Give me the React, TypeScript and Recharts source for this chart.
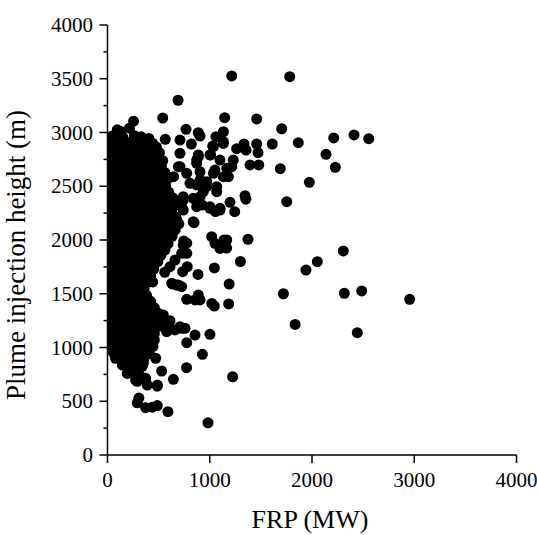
import React from 'react';
import { ScatterChart, Scatter, XAxis, YAxis } from 'recharts';

const xTicks = [0, 1000, 2000, 3000, 4000];
const yTicks = [0, 250, 500, 750, 1000, 1250, 1500, 1750, 2000, 2250, 2500, 2750, 3000, 3250, 3500, 3750, 4000];

// [FRP (MW), plume injection height (m)]
const blobTop: [number, number][] = [
  [255, 3105], [95, 3025], [130, 3010], [215, 3040],
  [40, 2965], [150, 2955], [262, 2970], [330, 2960], [405, 2945],
  [20, 2915], [92, 2925], [178, 2910], [248, 2920], [302, 2905], [378, 2920], [440, 2900],
  [10, 2868], [62, 2872], [128, 2860], [203, 2875], [268, 2862], [348, 2870], [418, 2858], [478, 2866],
  [28, 2808], [102, 2815], [168, 2800], [240, 2812], [312, 2805], [382, 2818], [452, 2800], [508, 2812],
  [12, 2752], [72, 2748], [138, 2760], [212, 2745], [282, 2755], [348, 2742], [422, 2758], [488, 2750], [540, 2738],
];

const blobMid: [number, number][] = [
  [38, 2692], [112, 2688], [182, 2695], [248, 2684], [322, 2690], [392, 2698], [458, 2686], [528, 2690],
  [10, 2632], [82, 2625], [148, 2636], [222, 2628], [288, 2634], [362, 2622], [428, 2630], [502, 2638], [562, 2626],
  [42, 2572], [108, 2566], [182, 2575], [252, 2568], [318, 2578], [392, 2565], [462, 2572], [528, 2580], [588, 2568],
  [12, 2512], [78, 2505], [152, 2514], [218, 2508], [292, 2516], [358, 2502], [432, 2510], [498, 2518], [568, 2506],
  [38, 2452], [112, 2446], [178, 2455], [252, 2448], [322, 2456], [388, 2444], [462, 2450], [532, 2458], [598, 2446],
  [10, 2392], [82, 2386], [148, 2395], [222, 2388], [288, 2396], [362, 2384], [428, 2390], [502, 2398], [572, 2386], [638, 2394],
  [42, 2332], [108, 2326], [182, 2335], [248, 2328], [322, 2336], [392, 2324], [458, 2330], [532, 2338], [598, 2326], [662, 2334],
  [12, 2272], [78, 2266], [152, 2275], [222, 2268], [288, 2276], [362, 2264], [432, 2270], [498, 2278], [572, 2266], [628, 2274],
  [38, 2212], [112, 2206], [178, 2215], [252, 2208], [318, 2216], [392, 2204], [462, 2210], [528, 2218], [602, 2206], [668, 2214],
  [10, 2152], [82, 2146], [148, 2155], [222, 2148], [292, 2156], [358, 2144], [432, 2150], [502, 2158], [568, 2146], [642, 2154], [698, 2150],
  [42, 2092], [108, 2086], [182, 2095], [248, 2088], [322, 2096], [388, 2084], [462, 2090], [528, 2098], [602, 2086], [662, 2094],
  [12, 2032], [78, 2026], [152, 2035], [218, 2028], [292, 2036], [362, 2024], [428, 2030], [502, 2038], [568, 2026], [632, 2034],
  [38, 1972], [112, 1966], [178, 1975], [252, 1968], [318, 1976], [392, 1964], [458, 1970], [532, 1978], [592, 1966],
  [10, 1912], [82, 1906], [148, 1915], [222, 1908], [288, 1916], [362, 1904], [432, 1910], [498, 1918], [562, 1906],
];

const blobLow: [number, number][] = [
  [42, 1852], [108, 1846], [182, 1855], [248, 1848], [322, 1856], [388, 1844], [462, 1850], [522, 1858],
  [12, 1792], [78, 1786], [152, 1795], [218, 1788], [292, 1796], [358, 1784], [432, 1790], [492, 1798],
  [38, 1732], [112, 1726], [178, 1735], [252, 1728], [318, 1736], [392, 1724], [452, 1730],
  [10, 1672], [82, 1666], [148, 1675], [222, 1668], [288, 1676], [362, 1664], [422, 1670],
  [42, 1612], [108, 1606], [182, 1615], [248, 1608], [322, 1616], [388, 1604], [442, 1610],
  [12, 1552], [78, 1546], [152, 1555], [218, 1548], [292, 1556], [358, 1544],
  [38, 1492], [112, 1486], [178, 1495], [252, 1488], [318, 1496], [382, 1484],
  [10, 1432], [82, 1426], [148, 1435], [222, 1428], [288, 1436], [358, 1424], [422, 1430],
  [42, 1372], [108, 1366], [182, 1375], [248, 1368], [322, 1376], [392, 1364], [458, 1370],
  [12, 1312], [78, 1306], [152, 1315], [218, 1308], [292, 1316], [362, 1304], [432, 1310], [498, 1318],
  [38, 1252], [112, 1246], [178, 1255], [252, 1248], [318, 1256], [392, 1244], [462, 1250], [528, 1258],
  [10, 1192], [82, 1186], [148, 1195], [222, 1188], [288, 1196], [358, 1184], [432, 1190], [502, 1198], [562, 1186],
  [42, 1132], [108, 1126], [182, 1135], [248, 1128], [322, 1136], [388, 1124], [458, 1130],
];

const blobTail: [number, number][] = [
  [28, 1072], [102, 1066], [172, 1075], [238, 1068], [312, 1076], [382, 1064], [458, 1070],
  [48, 1012], [122, 1006], [188, 1015], [262, 1008], [332, 1016], [402, 1004], [445, 1010],
  [58, 952], [132, 946], [198, 955], [272, 948], [342, 956], [410, 945],
  [78, 900], [150, 888], [222, 895], [292, 886], [355, 892],
  [145, 837], [200, 828], [264, 832], [324, 836], [350, 853],
  [193, 759], [264, 775], [315, 740],
  [275, 697], [373, 713], [389, 651], [487, 651],
];

const fringe: [number, number][] = [
  [745, 1990], [775, 1970], [741, 1953], [775, 1876], [725, 1876], [660, 1814], [611, 1752],
  [735, 1705], [780, 1752], [693, 1581], [640, 1590], [677, 1581], [628, 1597], [560, 1700], [725, 1566],
  [709, 1193], [758, 1178], [725, 1178], [660, 1163], [579, 1147], [546, 1302], [611, 1250], [600, 1230],
  [646, 2589], [693, 2682], [709, 2806], [677, 2186], [741, 2279], [741, 2372], [741, 2403], [725, 2310],
];

const spread: [number, number][] = [
  [775, 2620], [905, 2635], [1035, 2620], [1133, 2589], [1068, 2496], [970, 2542], [872, 2512], [937, 2449],
  [839, 2388], [905, 2341], [1002, 2310], [1100, 2295], [839, 2170],
  [1133, 2898], [1035, 2868], [1002, 2791], [888, 2775], [872, 2713],
  [905, 2558], [970, 2496], [1068, 2449], [905, 2403], [1002, 2295], [1100, 2279], [872, 2310],
  [709, 2682], [807, 2527], [872, 2744], [888, 2791], [1230, 2744], [1051, 2651], [1166, 2667],
  [1215, 2682], [1182, 2589], [1100, 2744], [1009, 2791], [1029, 2874],
  [768, 3030], [888, 2998], [905, 2967], [565, 2937], [709, 2930], [820, 2893], [1061, 2961], [1133, 3007],
  [1133, 2914], [1263, 2849], [1335, 2893], [1355, 2837], [1459, 2893], [1472, 2812], [1612, 2893],
  [1866, 2905], [1394, 2698], [1479, 2698], [1690, 2663], [2137, 2797], [2228, 2676], [1974, 2537],
  [1345, 2412], [1753, 2356], [1244, 2263], [1198, 2351], [846, 2161], [1019, 2031], [1139, 2000],
  [1374, 2006], [2212, 2949], [2411, 2977], [2555, 2942], [1704, 3035], [1459, 3126], [1146, 3138],
  [540, 3135], [690, 3300], [1215, 3526], [1782, 3519],
  [1353, 2380], [925, 2325], [1055, 2265], [1051, 1969], [1100, 1922], [1166, 2000], [1165, 1925],
  [2306, 1898], [2052, 1798], [1941, 1721], [1300, 1800], [1045, 1740], [885, 1680], [1190, 1590],
  [1720, 1500], [2316, 1504], [2486, 1526], [888, 1488], [856, 1442], [775, 1448], [905, 1442],
  [1020, 1410], [1045, 1385], [1185, 1405], [1835, 1215], [2443, 1138], [1002, 1123], [856, 1116],
  [775, 1045], [928, 937], [1224, 728], [773, 812], [644, 704], [530, 781], [471, 900],
  [591, 403], [983, 300], [487, 640], [373, 697], [291, 685], [275, 765], [340, 825],
  [438, 445], [487, 460], [373, 440], [291, 485], [307, 530], [2955, 1448],
];

const data = [...blobTop, ...blobMid, ...blobLow, ...blobTail, ...fringe, ...spread].map(([frp, height]) => ({ frp, height }));

const FONT = "'Times New Roman', 'Liberation Serif', serif";

const XTick = (props: any) => {
  const { x, y, payload } = props;
  return (
    <g>
      <line x1={x} y1={y} x2={x} y2={y + 8} stroke="#000" strokeWidth={1.5} />
      <text x={x} y={y + 32} textAnchor="middle" fontSize={21} fontFamily={FONT} fill="#000">
        {payload.value}
      </text>
    </g>
  );
};

const YTick = (props: any) => {
  const { x, y, payload } = props;
  const major = payload.value % 500 === 0;
  return (
    <g>
      <line x1={x - (major ? 8 : 4)} y1={y} x2={x} y2={y} stroke="#000" strokeWidth={1.5} />
      {major && (
        <text x={x - 14.5} y={y + 7} textAnchor="end" fontSize={21} fontFamily={FONT} fill="#000">
          {payload.value}
        </text>
      )}
    </g>
  );
};

const XTitle = (props: any) => {
  const vb = props.viewBox || { x: 107.5, y: 455, width: 409, height: 80 };
  return (
    <text x={vb.x + vb.width / 2 - 2} y={vb.y + 73} textAnchor="middle" fontSize={26} fontFamily={FONT} fill="#000">
      FRP (MW)
    </text>
  );
};

const YTitle = (props: any) => {
  const vb = props.viewBox || { x: 0, y: 25, width: 107.5, height: 430 };
  const cy = vb.y + vb.height / 2 + 15;
  const bx = vb.x + 25;
  return (
    <text x={bx} y={cy} transform={`rotate(-90, ${bx}, ${cy})`} textAnchor="middle" fontSize={27} fontFamily={FONT} fill="#000">
      Plume injection height (m)
    </text>
  );
};

const Dot = (props: any) => <circle cx={props.cx} cy={props.cy} r={5.5} fill="#000" />;

export default function App() {
  return (
    <div style={{ position: 'absolute', left: 0, top: 0, background: '#fff' }}>
      <ScatterChart width={537} height={535} margin={{ top: 25, right: 20.5, bottom: 0, left: 0 }}>
        <XAxis
          dataKey="frp"
          type="number"
          domain={[0, 4000]}
          ticks={xTicks}
          interval={0}
          height={80}
          tickSize={0}
          tickMargin={0}
          tickLine={false}
          tick={XTick}
          axisLine={{ stroke: '#000', strokeWidth: 1.5 }}
          label={<XTitle />}
          allowDataOverflow
        />
        <YAxis
          dataKey="height"
          type="number"
          domain={[0, 4000]}
          ticks={yTicks}
          interval={0}
          width={107.5}
          tickSize={0}
          tickMargin={0}
          tickLine={false}
          tick={YTick}
          axisLine={{ stroke: '#000', strokeWidth: 1.5 }}
          label={<YTitle />}
          allowDataOverflow
        />
        <XAxis
          xAxisId="top"
          orientation="top"
          type="number"
          domain={[0, 4000]}
          height={0}
          tick={false}
          tickLine={false}
          axisLine={{ stroke: '#000', strokeWidth: 1.5 }}
        />
        <YAxis
          yAxisId="right"
          orientation="right"
          type="number"
          domain={[0, 4000]}
          width={0}
          tick={false}
          tickLine={false}
          axisLine={{ stroke: '#000', strokeWidth: 1.5 }}
        />
        <Scatter data={data} fill="#000" shape={Dot} isAnimationActive={false} />
      </ScatterChart>
    </div>
  );
}
